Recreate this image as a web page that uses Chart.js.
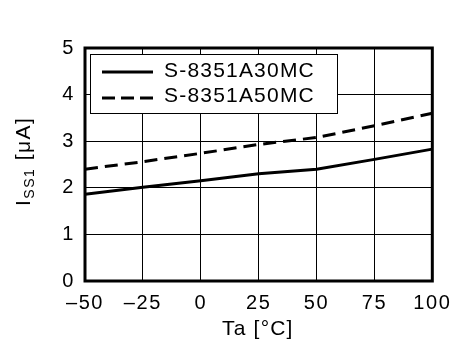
<html>
<head>
  <meta charset="utf-8">
  <title>Iss1 vs Ta</title>
  <script src="https://cdn.jsdelivr.net/npm/chart.js"></script>
  <style>
    body { margin: 0; background: white; }
    canvas { display: block; }
  </style>
</head>
<body>
<canvas id="chart" width="459" height="343"></canvas>
<script>
// temperature points (°C)
const temps = [-50, -25, 0, 25, 50, 75, 100];
// supply current Iss1 (µA)
const iss30 = [1.86, 2.01, 2.15, 2.30, 2.40, 2.61, 2.83];
const iss50 = [2.40, 2.56, 2.74, 2.93, 3.08, 3.33, 3.60];
const seriesNames = ['S-8351A30MC', 'S-8351A50MC'];

const FONT = '"Liberation Sans", Arial, sans-serif';
const SPACING = '1.6px';

function toPoints(ys) {
  return temps.map((t, i) => ({ x: t, y: ys[i] }));
}

const framePlugin = {
  id: 'frame',
  beforeDraw(chart) {
    chart.ctx.letterSpacing = SPACING;
  },
  afterDraw(chart) {
    const ctx = chart.ctx;
    const a = chart.chartArea;
    ctx.save();

    // thick frame
    ctx.strokeStyle = '#000';
    ctx.lineWidth = 3;
    ctx.strokeRect(a.left, a.top, a.right - a.left, a.bottom - a.top);

    // legend box
    ctx.fillStyle = '#fff';
    ctx.fillRect(90.5, 54.5, 247, 59);
    ctx.lineWidth = 1;
    ctx.strokeRect(90.5, 54.5, 247, 59);

    ctx.lineWidth = 3;
    ctx.beginPath();
    ctx.moveTo(102, 72);
    ctx.lineTo(153, 72);
    ctx.stroke();
    ctx.setLineDash([13, 6]);
    ctx.beginPath();
    ctx.moveTo(102, 98);
    ctx.lineTo(153, 98);
    ctx.stroke();
    ctx.setLineDash([]);

    ctx.fillStyle = '#000';
    ctx.letterSpacing = '1.2px';
    ctx.font = '21px ' + FONT;
    ctx.textAlign = 'left';
    ctx.textBaseline = 'alphabetic';
    ctx.fillText(seriesNames[0], 164, 77);
    ctx.fillText(seriesNames[1], 164, 102);

    // x title
    ctx.fillText('Ta [°C]', 222, 335);

    // y title with subscript
    ctx.letterSpacing = '1.5px';
    ctx.translate(30, 206);
    ctx.rotate(-Math.PI / 2);
    let x = 0;
    ctx.font = '21px ' + FONT;
    ctx.fillText('I', x, 0);
    x += ctx.measureText('I').width;
    ctx.font = '14px ' + FONT;
    ctx.fillText('SS1', x, 4);
    x += ctx.measureText('SS1').width;
    ctx.font = '21px ' + FONT;
    ctx.fillText(' [μA]', x, 0);
    ctx.restore();
  }
};

new Chart(document.getElementById('chart'), {
  type: 'line',
  data: {
    datasets: [
      {
        label: seriesNames[0],
        data: toPoints(iss30),
        borderColor: '#000',
        borderWidth: 3,
        pointRadius: 0,
        tension: 0,
        fill: false
      },
      {
        label: seriesNames[1],
        data: toPoints(iss50),
        borderColor: '#000',
        borderWidth: 3,
        borderDash: [13, 7],
        pointRadius: 0,
        tension: 0,
        fill: false
      }
    ]
  },
  options: {
    responsive: false,
    animation: false,
    devicePixelRatio: 1,
    layout: { padding: { left: 0, top: 48, right: 23, bottom: 0 } },
    plugins: {
      legend: { display: false },
      tooltip: { enabled: false }
    },
    scales: {
      x: {
        type: 'linear',
        min: -50,
        max: 100,
        afterFit(scale) { scale.height = 62; },
        grid: { color: '#000', lineWidth: 1, drawTicks: false },
        border: { display: false },
        ticks: {
          stepSize: 25,
          padding: 10,
          color: '#000',
          font: { family: FONT, size: 20 },
          maxRotation: 0,
          callback: v => (v < 0 ? '\u2013' + Math.abs(v) : String(v))
        }
      },
      y: {
        min: 0,
        max: 5,
        afterFit(scale) { scale.width = 85; },
        grid: { color: '#000', lineWidth: 1, drawTicks: false },
        border: { display: false },
        ticks: {
          stepSize: 1,
          padding: 10,
          color: '#000',
          font: { family: FONT, size: 20 }
        }
      }
    }
  },
  plugins: [framePlugin]
});
</script>
</body>
</html>
